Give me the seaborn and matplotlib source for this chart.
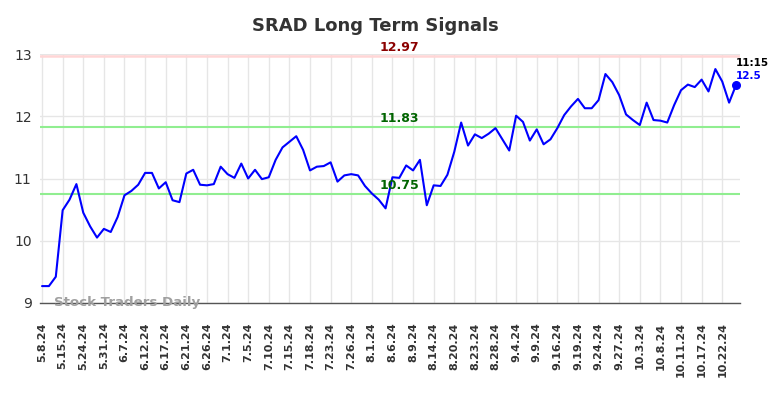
import matplotlib
matplotlib.use("Agg")
import matplotlib.pyplot as plt
import seaborn as sns
import numpy as np
import pandas as pd

# ---- data ----
tick_labels = ["5.8.24", "5.15.24", "5.24.24", "5.31.24", "6.7.24", "6.12.24", "6.17.24",
               "6.21.24", "6.26.24", "7.1.24", "7.5.24", "7.10.24", "7.15.24", "7.18.24",
               "7.23.24", "7.26.24", "8.1.24", "8.6.24", "8.9.24", "8.14.24", "8.20.24",
               "8.23.24", "8.28.24", "9.4.24", "9.9.24", "9.16.24", "9.19.24", "9.24.24",
               "9.27.24", "10.3.24", "10.8.24", "10.11.24", "10.17.24", "10.22.24"]

prices = [9.27, 9.27, 9.42, 10.49, 10.66, 10.91, 10.45, 10.23, 10.05, 10.19,
          10.14, 10.38, 10.73, 10.80, 10.90, 11.09, 11.09, 10.84, 10.94, 10.65,
          10.62, 11.08, 11.14, 10.90, 10.89, 10.91, 11.19, 11.07, 11.01, 11.24,
          11.00, 11.14, 10.99, 11.02, 11.30, 11.50, 11.59, 11.68, 11.46, 11.13,
          11.19, 11.20, 11.26, 10.95, 11.05, 11.07, 11.05, 10.88, 10.76, 10.66,
          10.52, 11.02, 11.01, 11.21, 11.13, 11.30, 10.57, 10.89, 10.88, 11.06,
          11.43, 11.90, 11.53, 11.71, 11.65, 11.72, 11.81, 11.63, 11.45, 12.01,
          11.91, 11.61, 11.79, 11.55, 11.63, 11.81, 12.02, 12.16, 12.28, 12.13,
          12.13, 12.26, 12.68, 12.55, 12.34, 12.03, 11.94, 11.86, 12.22, 11.94,
          11.93, 11.90, 12.18, 12.42, 12.51, 12.47, 12.59, 12.40, 12.76, 12.56,
          12.22, 12.50]

resistance = 12.97
support_levels = [11.83, 10.75]
last_time = "11:15"
last_price = 12.5
title = "SRAD Long Term Signals"
watermark = "Stock Traders Daily"

df = pd.DataFrame({"idx": np.arange(len(prices)), "price": prices})

sns.set_theme(style="white")
plt.rcParams['font.family'] = ['DejaVu Sans']

fig = plt.figure(figsize=(7.84, 3.98), dpi=100)
ax = fig.add_axes([0.051, 0.239, 0.893, 0.625])

# grid
tick_pos = np.arange(0, len(prices), 3)[:len(tick_labels)]
for t in tick_pos:
    ax.axvline(t, color="#e6e6e6", lw=1, zorder=0)
for yv in [9, 10, 11, 12, 13]:
    ax.axhline(yv, color="#e6e6e6", lw=1, zorder=0)

# levels
ax.axhline(resistance, color="#ffd6d6", lw=1.8, zorder=1)
for s in support_levels:
    ax.axhline(s, color="#90ee90", lw=1.5, zorder=1)

sns.lineplot(data=df, x="idx", y="price", color="#0000ff", lw=1.5, ax=ax, zorder=3)
ax.scatter([df["idx"].iloc[-1]], [prices[-1]], color="#0000ff", s=30, zorder=4)

label_x = 52
ax.text(label_x, resistance + 0.03, f"{resistance:.2f}", color="#8b0000", fontsize=9,
        fontweight="bold", ha="center", va="bottom")
for s in support_levels:
    ax.text(label_x, s + 0.03, f"{s:.2f}", color="#006400", fontsize=9,
            fontweight="bold", ha="center", va="bottom")

ax.text(len(prices) - 1, prices[-1] + 0.36, last_time, color="black", fontsize=7.5,
        fontweight="bold", ha="left", va="center")
ax.text(len(prices) - 1, prices[-1] + 0.15, f"{last_price}", color="#0000ff", fontsize=7.5,
        fontweight="bold", ha="left", va="center")

ax.text(1.7, 9.0, watermark, color="#a0a0a0", fontsize=9.6, fontweight="bold",
        ha="left", va="center", zorder=5)

ax.set_xlim(-0.3, len(prices) - 1 + 0.6)
ax.set_ylim(9, 13)
ax.set_yticks([9, 10, 11, 12, 13])
ax.set_yticklabels(["9", "10", "11", "12", "13"], fontsize=10, color="#333333")
ax.set_xticks(tick_pos)
ax.set_xticklabels(tick_labels, rotation=90, fontsize=8, fontweight="bold", color="#333333")
ax.tick_params(axis="y", length=0, pad=6)
ax.tick_params(axis="x", length=0, pad=14)
ax.set_xlabel("")
ax.set_ylabel("")
for sp in ["top", "right", "left"]:
    ax.spines[sp].set_visible(False)
ax.spines["bottom"].set_color("#555555")
ax.spines["bottom"].set_linewidth(1)

fig.text(0.479, 0.935, title, ha="center", va="center", fontsize=13,
         fontweight="bold", color="#333333")

fig.savefig("out.png", dpi=100)
